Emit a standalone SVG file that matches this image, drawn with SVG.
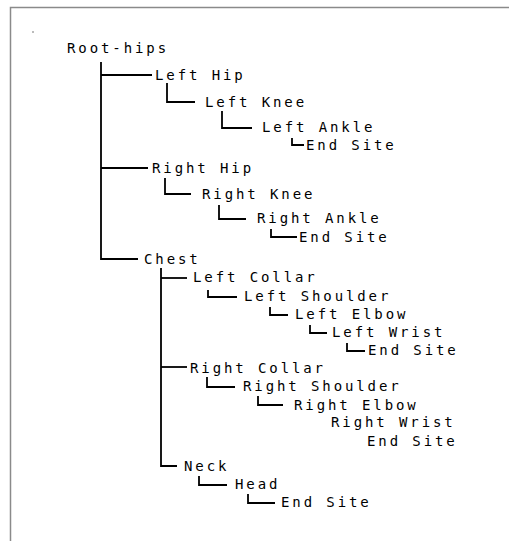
<svg xmlns="http://www.w3.org/2000/svg" width="509" height="541" viewBox="0 0 509 541">
<style>
text{font-family:"DejaVu Sans Mono","Liberation Mono",monospace;font-size:14px;letter-spacing:2.9px;fill:#000}
.c path{fill:none;stroke:#000;stroke-width:1.8}
.frame{fill:none;stroke:#8a8a8a;stroke-width:1.5}
</style>
<rect width="509" height="541" fill="#fff"/>
<path class="frame" d="M10.5,541 V7.5 H509"/>
<rect x="32" y="31" width="2" height="2" fill="#bbb"/>
<g class="c" id="connectors">
<path d="M101,62 V259 H138"/>
<path d="M101,75 H152"/>
<path d="M101,168 H148"/>
<path d="M167,83 V102 H195"/>
<path d="M222,111 V128 H252"/>
<path d="M292,138 V145 H304"/>
<path d="M165,178 V194 H191"/>
<path d="M219,205 V219 H246"/>
<path d="M271,229 V237 H297"/>
<path d="M161,268 V466 H177"/>
<path d="M161,278 H187"/>
<path d="M161,367 H187"/>
<path d="M208,290 V297 H237"/>
<path d="M270,307 V315 H288"/>
<path d="M310,325 V333 H327"/>
<path d="M347,343 V351 H365"/>
<path d="M207,377 V387 H235"/>
<path d="M258,396 V405 H283"/>
<path d="M199,476 V485 H227"/>
<path d="M248,494 V503 H275"/>
</g>
<g id="root"><text x="67" y="53">Root-hips</text></g>
<g id="lhip"><text x="155" y="80">Left Hip</text></g>
<g id="lknee"><text x="205" y="107">Left Knee</text></g>
<g id="lankle"><text x="262" y="132">Left Ankle</text></g>
<g id="lend"><text x="306" y="150">End Site</text></g>
<g id="rhip"><text x="152" y="173">Right Hip</text></g>
<g id="rknee"><text x="202" y="199">Right Knee</text></g>
<g id="rankle"><text x="257" y="223">Right Ankle</text></g>
<g id="rend"><text x="299" y="242">End Site</text></g>
<g id="chest"><text x="144" y="264">Chest</text></g>
<g id="lcollar"><text x="193" y="282">Left Collar</text></g>
<g id="lshoulder"><text x="244" y="301">Left Shoulder</text></g>
<g id="lelbow"><text x="295" y="319">Left Elbow</text></g>
<g id="lwrist"><text x="332" y="337">Left Wrist</text></g>
<g id="lhend"><text x="368" y="355">End Site</text></g>
<g id="rcollar"><text x="190" y="373">Right Collar</text></g>
<g id="rshoulder"><text x="243" y="391">Right Shoulder</text></g>
<g id="relbow"><text x="294" y="410">Right Elbow</text></g>
<g id="rwrist"><text x="331" y="427">Right Wrist</text></g>
<g id="rhend"><text x="367" y="446">End Site</text></g>
<g id="neck"><text x="184" y="471">Neck</text></g>
<g id="head"><text x="235" y="489">Head</text></g>
<g id="headend"><text x="281" y="507">End Site</text></g>
</svg>
